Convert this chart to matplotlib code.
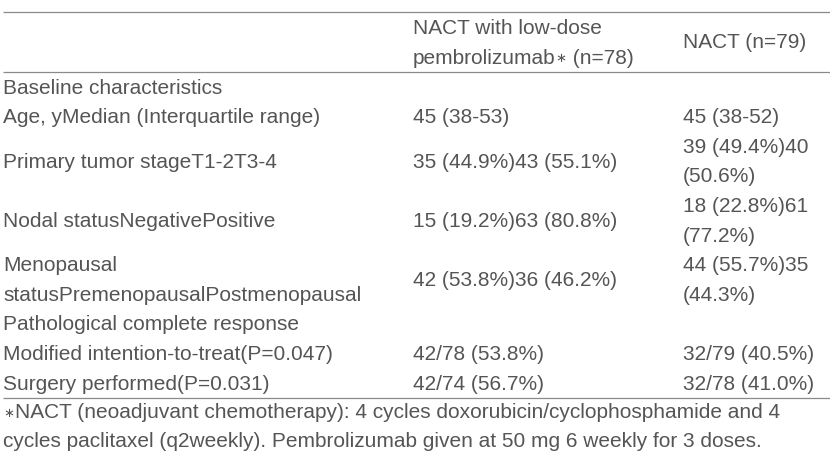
import matplotlib
matplotlib.use("Agg")
import matplotlib.pyplot as plt

# ---- table content ----
col_headers = ["NACT with low-dose\npembrolizumab\u2217 (n=78)", "NACT (n=79)"]
row_labels = [
    "Baseline characteristics",
    "Age, yMedian (Interquartile range)",
    "Primary tumor stageT1-2T3-4",
    "Nodal statusNegativePositive",
    "Menopausal\nstatusPremenopausalPostmenopausal",
    "Pathological complete response",
    "Modified intention-to-treat(P=0.047)",
    "Surgery performed(P=0.031)",
]
pembro_values = [
    "",
    "45 (38-53)",
    "35 (44.9%)43 (55.1%)",
    "15 (19.2%)63 (80.8%)",
    "42 (53.8%)36 (46.2%)",
    "",
    "42/78 (53.8%)",
    "42/74 (56.7%)",
]
nact_values = [
    "",
    "45 (38-52)",
    "39 (49.4%)40\n(50.6%)",
    "18 (22.8%)61\n(77.2%)",
    "44 (55.7%)35\n(44.3%)",
    "",
    "32/79 (40.5%)",
    "32/78 (41.0%)",
]
footnote_lines = [
    "\u2217NACT (neoadjuvant chemotherapy): 4 cycles doxorubicin/cyclophosphamide and 4",
    "cycles paclitaxel (q2weekly). Pembrolizumab given at 50 mg 6 weekly for 3 doses.",
]

# ---- styling / layout ----
W, H = 830, 461
DPI = 100
TEXT_COLOR = "#555555"
LINE_COLOR = "#8a8a8a"
FONT = ["Liberation Sans", "DejaVu Sans"]
FS = 15.0
AST_FS = 9.5
AST = "\u2217"
col_x = [3, 413, 683]
line_x0, line_x1 = 3, 830
top_line = 12
header_pitch = 30
body_pitch = 29.6
base_off = 21.5

fig = plt.figure(figsize=(W / DPI, H / DPI), dpi=DPI)
ax = fig.add_axes([0, 0, 1, 1])
ax.set_xlim(0, W)
ax.set_ylim(H, 0)
ax.axis("off")
renderer = fig.canvas.get_renderer()


def put_line(x, yb, s):
    """Draw one line of text; the math asterisk is drawn smaller."""
    pieces = s.split(AST)
    cx = x
    for k, p in enumerate(pieces):
        if k > 0:
            t = ax.text(cx, yb - 1.5, AST, fontsize=AST_FS, family=["DejaVu Sans"],
                        color=TEXT_COLOR, ha="left", va="baseline")
            cx += t.get_window_extent(renderer).width + 0.5
        if p:
            t = ax.text(cx, yb, p, fontsize=FS, family=FONT,
                        color=TEXT_COLOR, ha="left", va="baseline")
            cx += t.get_window_extent(renderer).width


def draw_cell(x, top, text, n_lines, pitch):
    lines = text.split("\n") if text else []
    shift = (n_lines - len(lines)) * pitch / 2
    for i, ln in enumerate(lines):
        put_line(x, top + base_off + shift + i * pitch, ln)


def hline(y):
    ax.plot([line_x0, line_x1], [y, y], color=LINE_COLOR, lw=0.9,
            solid_capstyle="butt")


# header
hline(top_line)
hdr_cells = [""] + col_headers
n_hdr = max(len(c.split("\n")) for c in hdr_cells)
for x, c in zip(col_x, hdr_cells):
    draw_cell(x, top_line, c, n_hdr, header_pitch)
y = top_line + n_hdr * header_pitch
hline(y)

# body
for lab, v1, v2 in zip(row_labels, pembro_values, nact_values):
    cells = [lab, v1, v2]
    n = max(len(c.split("\n")) for c in cells)
    for x, c in zip(col_x, cells):
        draw_cell(x, y, c, n, body_pitch)
    y += n * body_pitch
hline(y)

# footnote
for i, ln in enumerate(footnote_lines):
    put_line(col_x[0], y + 20.5 + i * 29, ln)

fig.savefig("out.png", dpi=DPI)
